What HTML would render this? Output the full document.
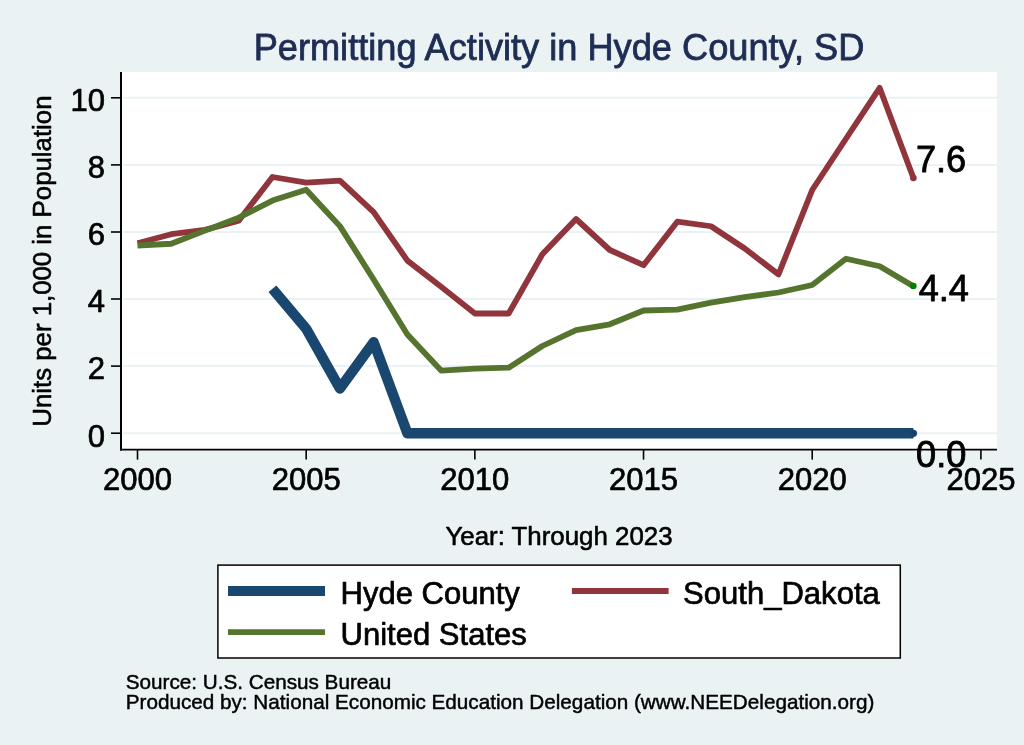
<!DOCTYPE html>
<html><head><meta charset="utf-8"><title>Permitting Activity in Hyde County, SD</title>
<style>html,body{margin:0;padding:0;background:#eaf2f3;}svg{display:block}text{font-family:"Liberation Sans",sans-serif;stroke-linejoin:round;}</style></head><body>
<svg width="1024" height="745" viewBox="0 0 1024 745">
<rect x="0" y="0" width="1024" height="745" fill="#eaf2f3"/>
<rect x="121.2" y="72" width="875.8" height="377.5" fill="#ffffff"/>
<line x1="123" y1="433.2" x2="997" y2="433.2" stroke="#eaf2f3" stroke-width="2"/>
<line x1="123" y1="366.1" x2="997" y2="366.1" stroke="#eaf2f3" stroke-width="2"/>
<line x1="123" y1="299.0" x2="997" y2="299.0" stroke="#eaf2f3" stroke-width="2"/>
<line x1="123" y1="232.0" x2="997" y2="232.0" stroke="#eaf2f3" stroke-width="2"/>
<line x1="123" y1="164.9" x2="997" y2="164.9" stroke="#eaf2f3" stroke-width="2"/>
<line x1="123" y1="97.8" x2="997" y2="97.8" stroke="#eaf2f3" stroke-width="2"/>
<polyline points="272.44,288.75 306.18,328.75 339.92,388.50 373.65,342.25 407.39,433.30 441.12,433.30 474.86,433.30 508.60,433.30 542.33,433.30 576.07,433.30 609.80,433.30 643.54,433.30 677.28,433.30 711.01,433.30 744.75,433.30 778.48,433.30 812.22,433.30 845.96,433.30 879.69,433.30 913.43,433.30" fill="none" stroke="#1a476f" stroke-width="10.4" stroke-linejoin="round" stroke-linecap="butt"/>
<polyline points="137.50,243.30 171.24,234.20 204.97,229.90 238.71,220.80 272.44,177.00 306.18,182.70 339.92,180.60 373.65,212.10 407.39,260.60 441.12,286.70 474.86,313.50 508.60,313.50 542.33,254.30 576.07,219.00 609.80,250.00 643.54,265.20 677.28,221.70 711.01,226.25 744.75,248.50 778.48,274.40 812.22,190.00 845.96,138.75 879.69,87.90 913.43,178.00" fill="none" stroke="#90353b" stroke-width="5.8" stroke-linejoin="round" stroke-linecap="butt"/>
<polyline points="137.50,245.50 171.24,243.75 204.97,230.60 238.71,217.60 272.44,200.60 306.18,189.70 339.92,226.10 373.65,279.50 407.39,334.50 441.12,370.60 474.86,368.60 508.60,367.70 542.33,346.00 576.07,330.10 609.80,324.30 643.54,310.50 677.28,309.70 711.01,302.60 744.75,297.10 778.48,292.50 812.22,285.00 845.96,258.75 879.69,266.25 913.43,286.25" fill="none" stroke="#55752f" stroke-width="5.8" stroke-linejoin="round" stroke-linecap="butt"/>
<circle cx="913.43" cy="433.3" r="3.6" fill="#17426b"/>
<circle cx="913.43" cy="178" r="3.3" fill="#90353b"/>
<circle cx="913.33" cy="286.0" r="3.3" fill="#008000"/>
<line x1="121" y1="72" x2="121" y2="450.4" stroke="#000" stroke-width="2"/>
<line x1="120" y1="449.6" x2="997" y2="449.6" stroke="#000" stroke-width="1.6"/>
<line x1="111" y1="433.2" x2="121" y2="433.2" stroke="#000" stroke-width="1.6"/>
<text x="105.1" y="446.5" font-size="31.04" text-anchor="end" fill="#000" stroke="#000" stroke-width="0.68">0</text>
<line x1="111" y1="366.1" x2="121" y2="366.1" stroke="#000" stroke-width="1.6"/>
<text x="105.1" y="379.4" font-size="31.04" text-anchor="end" fill="#000" stroke="#000" stroke-width="0.68">2</text>
<line x1="111" y1="299.0" x2="121" y2="299.0" stroke="#000" stroke-width="1.6"/>
<text x="105.1" y="312.3" font-size="31.04" text-anchor="end" fill="#000" stroke="#000" stroke-width="0.68">4</text>
<line x1="111" y1="232.0" x2="121" y2="232.0" stroke="#000" stroke-width="1.6"/>
<text x="105.1" y="245.3" font-size="31.04" text-anchor="end" fill="#000" stroke="#000" stroke-width="0.68">6</text>
<line x1="111" y1="164.9" x2="121" y2="164.9" stroke="#000" stroke-width="1.6"/>
<text x="105.1" y="178.2" font-size="31.04" text-anchor="end" fill="#000" stroke="#000" stroke-width="0.68">8</text>
<line x1="111" y1="97.8" x2="121" y2="97.8" stroke="#000" stroke-width="1.6"/>
<text x="105.1" y="111.1" font-size="31.04" text-anchor="end" fill="#000" stroke="#000" stroke-width="0.68">10</text>
<line x1="137.5" y1="449.6" x2="137.5" y2="459.6" stroke="#000" stroke-width="1.6"/>
<text x="137.5" y="489.6" font-size="31.04" text-anchor="middle" fill="#000" stroke="#000" stroke-width="0.68">2000</text>
<line x1="306.17999999999995" y1="449.6" x2="306.17999999999995" y2="459.6" stroke="#000" stroke-width="1.6"/>
<text x="306.18" y="489.6" font-size="31.04" text-anchor="middle" fill="#000" stroke="#000" stroke-width="0.68">2005</text>
<line x1="474.85999999999996" y1="449.6" x2="474.85999999999996" y2="459.6" stroke="#000" stroke-width="1.6"/>
<text x="474.86" y="489.6" font-size="31.04" text-anchor="middle" fill="#000" stroke="#000" stroke-width="0.68">2010</text>
<line x1="643.54" y1="449.6" x2="643.54" y2="459.6" stroke="#000" stroke-width="1.6"/>
<text x="643.54" y="489.6" font-size="31.04" text-anchor="middle" fill="#000" stroke="#000" stroke-width="0.68">2015</text>
<line x1="812.2199999999999" y1="449.6" x2="812.2199999999999" y2="459.6" stroke="#000" stroke-width="1.6"/>
<text x="812.22" y="489.6" font-size="31.04" text-anchor="middle" fill="#000" stroke="#000" stroke-width="0.68">2020</text>
<line x1="980.9" y1="449.6" x2="980.9" y2="459.6" stroke="#000" stroke-width="1.6"/>
<text x="980.9" y="489.6" font-size="31.04" text-anchor="middle" fill="#000" stroke="#000" stroke-width="0.68">2025</text>
<text x="915.9" y="172" font-size="36.2" text-anchor="start" fill="#000" stroke="#000" stroke-width="0.80">7.6</text>
<text x="918.7" y="300.8" font-size="36.2" text-anchor="start" fill="#000" stroke="#000" stroke-width="0.80">4.4</text>
<text x="916.1" y="467" font-size="36.2" text-anchor="start" fill="#000" stroke="#000" stroke-width="0.80">0.0</text>
<text x="559" y="60" font-size="36.2" text-anchor="middle" fill="#1e2d53" stroke="#1e2d53" stroke-width="0.80">Permitting Activity in Hyde County, SD</text>
<text x="0" y="0" font-size="25.8" text-anchor="middle" fill="#000" stroke="#000" stroke-width="0.57" transform="translate(51.3,261.1) rotate(-90)">Units per 1,000 in Population</text>
<text x="559" y="545" font-size="25.87" text-anchor="middle" fill="#000" stroke="#000" stroke-width="0.57">Year: Through 2023</text>
<rect x="217.9" y="565.1" width="682.4" height="92.9" fill="#ffffff" stroke="#000" stroke-width="1.5"/>
<line x1="228" y1="591" x2="325" y2="591" stroke="#1a476f" stroke-width="10.2"/>
<line x1="571.9" y1="591" x2="668.6" y2="591" stroke="#90353b" stroke-width="5.8"/>
<line x1="228" y1="632.2" x2="325" y2="632.2" stroke="#55752f" stroke-width="5.8"/>
<text x="340.5" y="603.8" font-size="31.04" text-anchor="start" fill="#000" stroke="#000" stroke-width="0.68">Hyde County</text>
<text x="683.1" y="603.8" font-size="31.04" text-anchor="start" fill="#000" stroke="#000" stroke-width="0.68">South_Dakota</text>
<text x="340.5" y="644.5" font-size="31.04" text-anchor="start" fill="#000" stroke="#000" stroke-width="0.68">United States</text>
<text x="125.7" y="689.4" font-size="20.69" text-anchor="start" fill="#000" stroke="#000" stroke-width="0.46">Source: U.S. Census Bureau</text>
<text x="125.7" y="709" font-size="20.69" text-anchor="start" fill="#000" stroke="#000" stroke-width="0.46">Produced by: National Economic Education Delegation (www.NEEDelegation.org)</text>
</svg></body></html>
